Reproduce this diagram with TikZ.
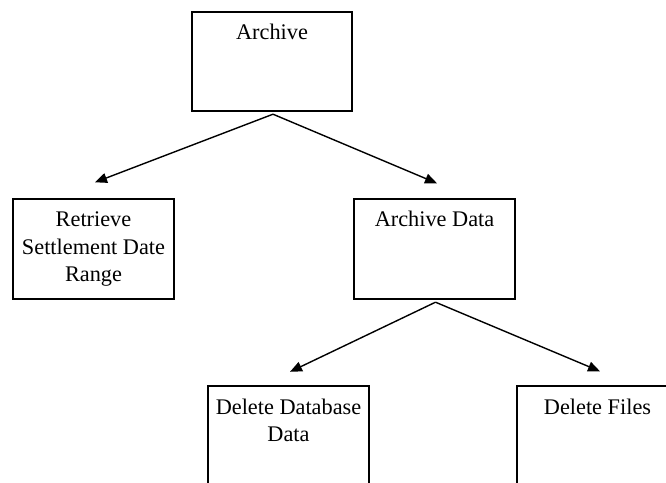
\documentclass[tikz,border=0pt]{standalone}
\usepackage{fontspec}
\setmainfont{Liberation Serif}
\usetikzlibrary{arrows.meta,calc}
\tikzset{
  boxnode/.style={draw=black, line width=1.4pt, rectangle, inner sep=0pt,
    minimum width=161pt, minimum height=100pt},
  boxtext/.style={anchor=north, inner sep=0pt, align=center,
    font=\fontsize{22.3pt}{27.5pt}\selectfont},
  conn/.style={line width=1.4pt, -{Triangle[length=12pt,width=10pt]}}
}
\begin{document}
\begin{tikzpicture}[x=1pt,y=-1pt]
\clip (0,0) rectangle (666,482);
\fill[white] (0,0) rectangle (666,482);
% boxes
\node[boxnode, minimum width=160pt, minimum height=99pt] (arch) at (272,61.5) {};
\node[boxnode] (retr) at (93.5,249) {};
\node[boxnode] (adat) at (434.5,249) {};
\node[boxnode] (ddd) at (288.5,436) {};
\node[boxnode] (dfil) at (597.5,436) {};
% texts
\node[boxtext] (tarch) at ($(arch.north)+(0,12)$) {\rule{0pt}{16pt}Archive};
\node[boxtext] (tretr) at ($(retr.north)+(0,12)$) {\rule{0pt}{16pt}Retrieve\\Settlement Date\\Range};
\node[boxtext] (tadat) at ($(adat.north)+(0,12)$) {\rule{0pt}{16pt}Archive Data};
\node[boxtext] (tddd) at ($(ddd.north)+(0,12.5)$) {\rule{0pt}{16pt}Delete Database\\Data};
\node[boxtext] (tdfil) at ($(dfil.north)+(0,12.5)$) {\rule{0pt}{16pt}Delete Files};
% connector points
\coordinate (a1) at ($(arch.south)+(1,2.5)$);
\coordinate (a2) at ($(adat.south)+(1,2.5)$);
\coordinate (t1) at ($(retr.north)+(1.5,-16)$);
\coordinate (t2) at ($(adat.north)+(2.5,-15)$);
\coordinate (t3) at ($(ddd.north)+(1.5,-13.5)$);
\coordinate (t4) at ($(dfil.north)+(2.5,-14)$);
% connectors
\draw[conn] (a1) -- (t1);
\draw[conn] (a1) -- (t2);
\draw[conn] (a2) -- (t3);
\draw[conn] (a2) -- (t4);
\end{tikzpicture}
\end{document}
